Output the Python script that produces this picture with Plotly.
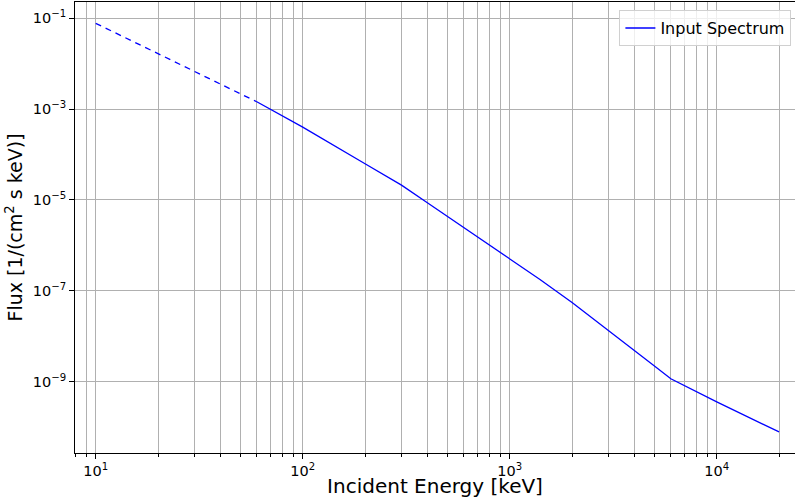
import plotly.graph_objects as go

# Values (energy in keV, flux in 1/(cm^2 s keV))
energy_extrap = [10, 60]
flux_extrap = [7.76e-2, 1.45e-3]

energy = [60, 100, 200, 300, 400, 500, 600, 700, 800, 900, 1000, 1400,
          2000, 3000, 4000, 5000, 6000, 10000, 20000]
flux = [1.45e-3, 4.02e-4, 6.25e-5, 2.12e-5, 8.69e-6, 4.36e-6, 2.45e-6,
        1.51e-6, 1.01e-6, 7.03e-7, 4.99e-7, 1.77e-7, 5.50e-8, 1.35e-8,
        4.89e-9, 2.21e-9, 1.15e-9, 3.56e-10, 7.76e-11]

x_major = [10, 100, 1000, 10000]
x_major_text = ["10<sup>1</sup>", "10<sup>2</sup>", "10<sup>3</sup>", "10<sup>4</sup>"]
x_minor = [m * d for d in (1, 10, 100, 1000, 10000) for m in range(2, 10)] + [9]
y_major = [1e-1, 1e-3, 1e-5, 1e-7, 1e-9]
y_major_text = ["10<sup>−1</sup>", "10<sup>−3</sup>", "10<sup>−5</sup>",
                "10<sup>−7</sup>", "10<sup>−9</sup>"]

_GRID = "#b0b0b0"
_FONT = "DejaVu Sans"

fig = go.Figure()
fig.add_trace(go.Scatter(
    x=energy_extrap, y=flux_extrap, mode="lines", showlegend=False,
    line=dict(color="#0000ff", width=1.3, dash="6px,5px"),
))
fig.add_trace(go.Scatter(
    x=energy, y=flux, mode="lines", name="Input Spectrum",
    line=dict(color="#0000ff", width=1.3),
))

fig.update_xaxes(
    type="log", range=[0.9, 4.378],
    tickvals=x_major, ticktext=x_major_text,
    ticks="outside", ticklen=5, tickwidth=1, tickcolor="black",
    showgrid=True, gridcolor=_GRID, gridwidth=1,
    minor=dict(tickvals=x_minor, ticks="outside", ticklen=3, tickcolor="black",
               showgrid=True, gridcolor=_GRID, gridwidth=1),
    showline=True, linecolor="black", linewidth=1, mirror=True,
    zeroline=False, tickfont=dict(size=14.5, color="black"),
    title=dict(text="Incident Energy [keV]", font=dict(size=20, color="black"), standoff=2),
)
fig.update_yaxes(
    type="log", range=[-10.574, -0.641],
    tickvals=y_major, ticktext=y_major_text,
    ticks="outside", ticklen=5, tickwidth=1, tickcolor="black",
    showgrid=True, gridcolor=_GRID, gridwidth=1,
    showline=True, linecolor="black", linewidth=1, mirror=True,
    zeroline=False, tickfont=dict(size=14.5, color="black"),
    title=dict(text="Flux [1/(cm<sup>2</sup> s keV)]", font=dict(size=19, color="black"), standoff=5),
)
fig.update_layout(
    width=795, height=498,
    margin=dict(l=75, r=0, t=2, b=45, autoexpand=False),
    plot_bgcolor="white", paper_bgcolor="white",
    font=dict(family=_FONT, color="black"),
    legend=dict(x=0.995, y=0.982, xanchor="right", yanchor="top",
                bgcolor="rgba(255,255,255,0.8)", bordercolor="#d0d0d0", borderwidth=1,
                font=dict(size=16)),
)
# the browser's default 8px body margin would shift the whole figure
fig.write_html("out.html", config={"displayModeBar": False},
               post_script="document.body.style.margin='0';")
